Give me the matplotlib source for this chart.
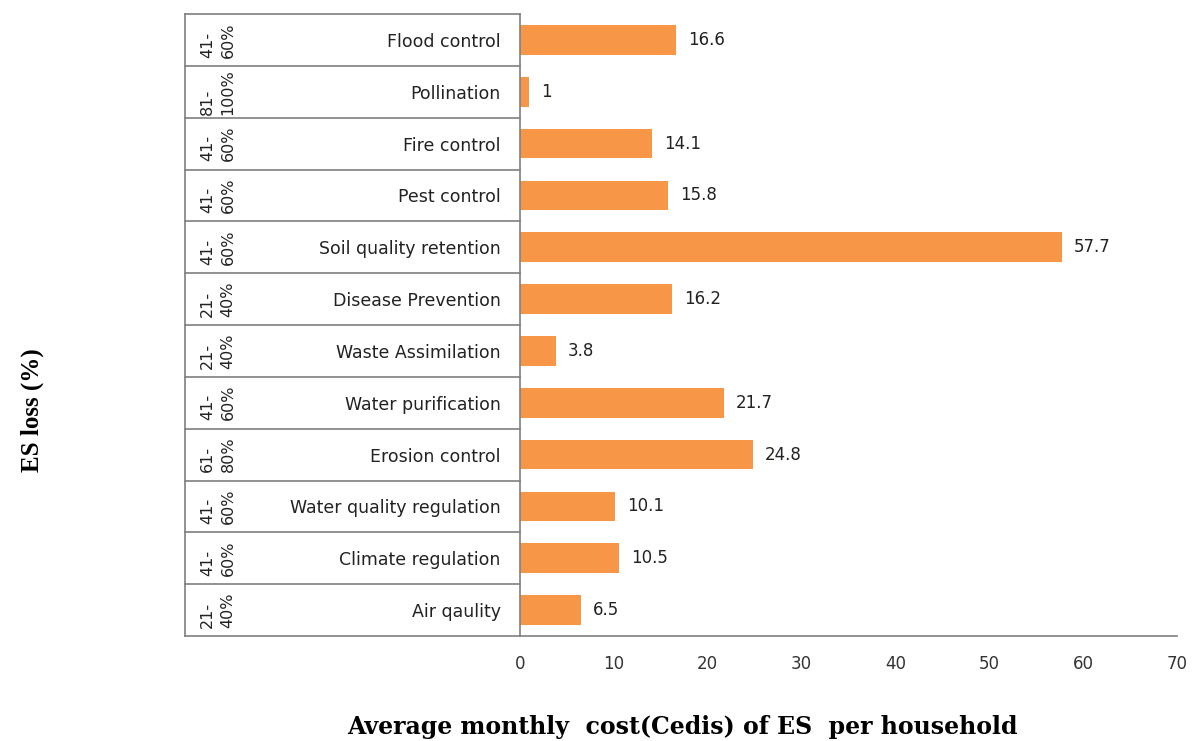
import numpy as np
import matplotlib.pyplot as plt
import matplotlib.transforms as mtransforms

# ecosystem services, listed bottom to top
services = ['Air qaulity', 'Climate regulation', 'Water quality regulation',
            'Erosion control', 'Water purification', 'Waste Assimilation',
            'Disease Prevention', 'Soil quality retention', 'Pest control',
            'Fire control', 'Pollination', 'Flood control']
cost = [6.5, 10.5, 10.1, 24.8, 21.7, 3.8, 16.2, 57.7, 15.8, 14.1, 1, 16.6]
loss = ['21-\n40%', '41-\n60%', '41-\n60%', '61-\n80%', '41-\n60%', '21-\n40%',
        '21-\n40%', '41-\n60%', '41-\n60%', '41-\n60%', '81-\n100%', '41-\n60%']
xticks = [0, 10, 20, 30, 40, 50, 60, 70]

W, H = 1194, 741
fig = plt.figure(figsize=(W / 100, H / 100), dpi=100)
ax_l, ax_r, ax_t, ax_b = 520, 1177, 14, 636
ax = fig.add_axes([ax_l / W, 1 - ax_b / H, (ax_r - ax_l) / W, (ax_b - ax_t) / H])

y = np.arange(len(services))
ax.barh(y, cost, height=0.57, color='#F79646')
for yi, v in zip(y, cost):
    ax.text(v + 1.3, yi, f'{v:g}', va='center', ha='left', fontsize=12, color='#222222')

ax.set_xlim(0, 70)
ax.set_ylim(-0.5, len(services) - 0.5)
ax.set_xticks(xticks)
ax.tick_params(axis='x', length=0, pad=14, labelsize=12, labelcolor='#333333')
ax.set_yticks(y)
ax.set_yticklabels(services)
ax.tick_params(axis='y', length=0, pad=14, labelsize=12.5, labelcolor='#222222')

for s in ['top', 'right']:
    ax.spines[s].set_visible(False)
ax.spines['left'].set_color('#7f7f7f')
ax.spines['bottom'].set_color('#7f7f7f')
ax.spines['left'].set_linewidth(1.2)
ax.spines['bottom'].set_linewidth(1.2)

# table on the left: row lines, outer border, ES loss classes
xl = (185 - ax_l) / (ax_r - ax_l)
tr = mtransforms.blended_transform_factory(ax.transAxes, ax.transData)
for b in np.arange(-0.5, len(services), 1.0):
    ax.plot([xl, 0], [b, b], transform=tr, color='#7f7f7f', lw=1.2, clip_on=False)
ax.plot([xl, xl], [-0.5, len(services) - 0.5], transform=tr, color='#7f7f7f',
        lw=1.2, clip_on=False)
xt = (218 - ax_l) / (ax_r - ax_l)
for yi, t in zip(y, loss):
    ax.text(xt, yi, t, transform=tr, rotation=90, ha='center', va='center',
            multialignment='left', fontsize=11.5, color='#222222', linespacing=1.45)

fig.text(682 / W, 1 - 727 / H, 'Average monthly  cost(Cedis) of ES  per household',
         ha='center', va='center', fontsize=17, fontweight='bold',
         family='DejaVu Serif')
fig.text(32 / W, 1 - 410 / H, 'ES loss (%)', rotation=90, ha='center', va='center',
         fontsize=18, fontweight='bold', family='Liberation Serif')

fig.savefig('out.png', dpi=100)
